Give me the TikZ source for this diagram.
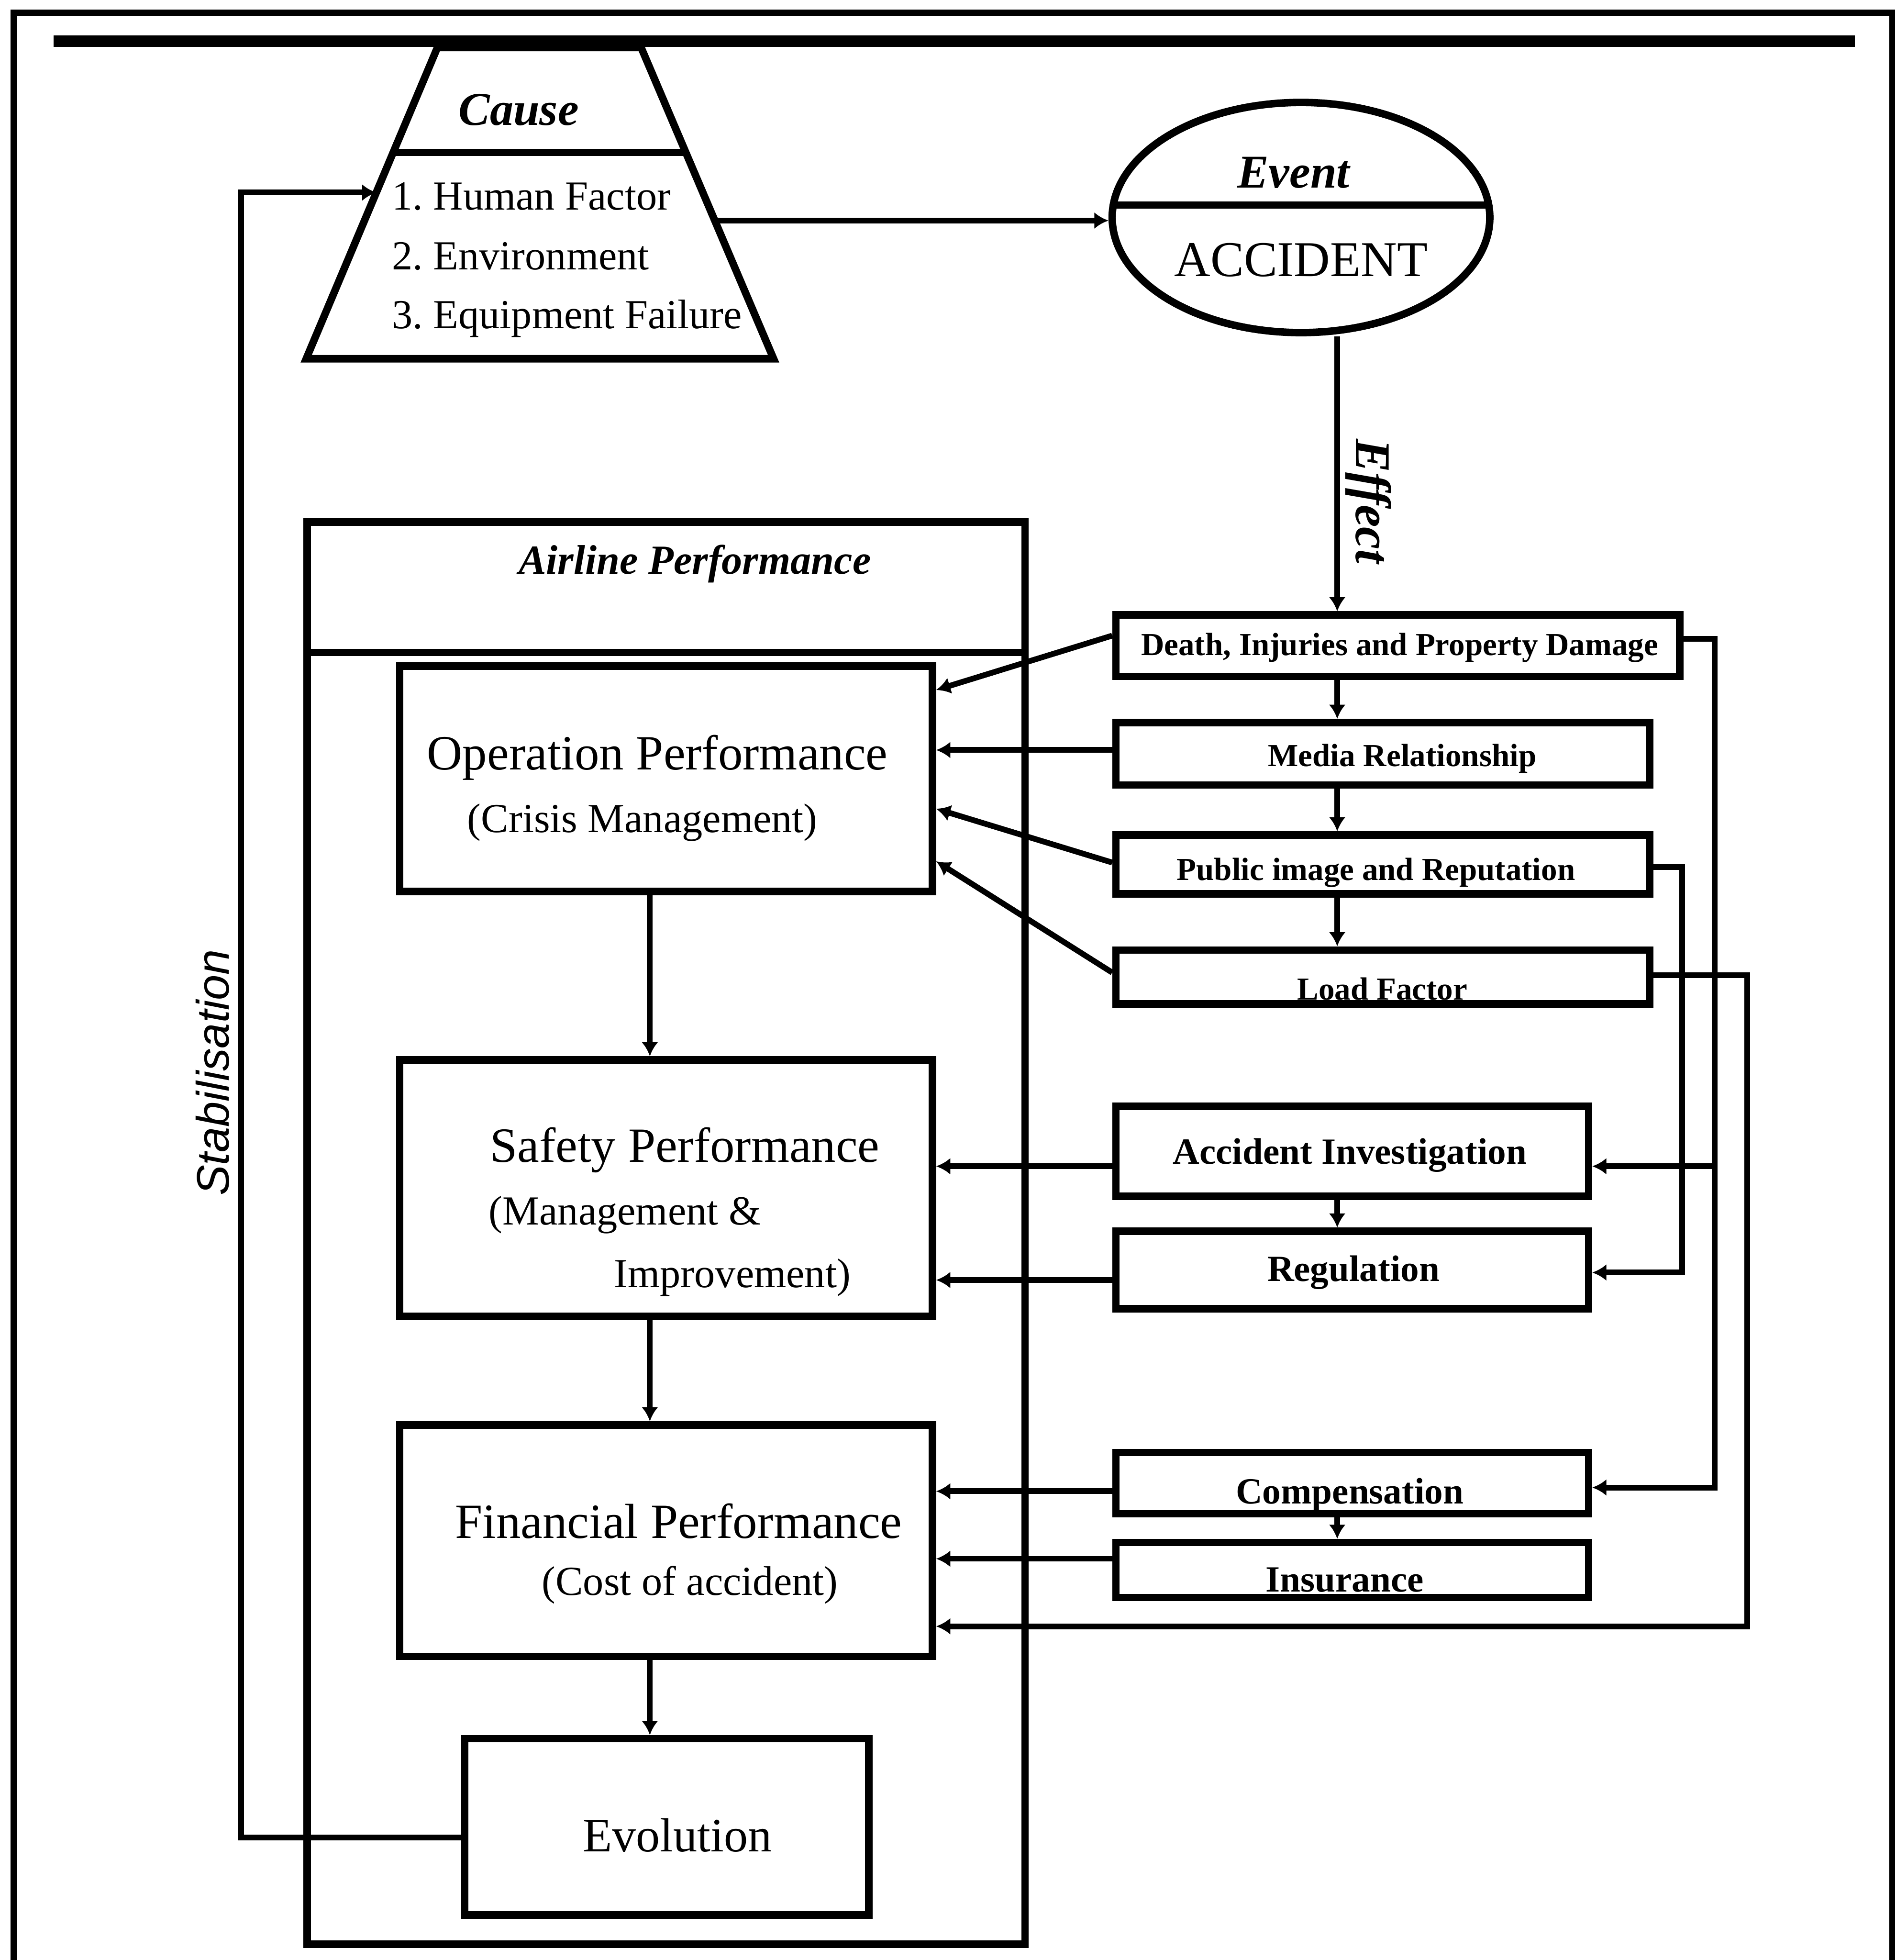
\documentclass[tikz,border=0pt]{standalone}
\usepackage{fontspec}
\setmainfont{Liberation Serif}
\setsansfont{Liberation Sans}
\usetikzlibrary{shapes.geometric,arrows.meta,calc}
\frenchspacing
\begin{document}
\begin{tikzpicture}[x=0.01cm,y=-0.01cm,
  box/.style={draw, line width=1.7pt, rectangle, inner sep=0pt},
  shp/.style={line width=1.7pt},
  con/.style={line width=1.3pt},
  arr/.style={con, -{Latex[length=3.2pt,width=3.8pt]}},
  lt/.style={inner sep=0pt, font=\fontsize{11.2}{13}\selectfont},
  ls/.style={inner sep=0pt, font=\fontsize{9.4}{11}\selectfont},
  rts/.style={inner sep=0pt, font=\bfseries\fontsize{7.3}{9}\selectfont},
  rtb/.style={inner sep=0pt, font=\bfseries\fontsize{8.4}{10}\selectfont},
  bi/.style={inner sep=0pt, font=\bfseries\itshape\fontsize{10.7}{12}\selectfont},
  item/.style={inner sep=0pt, anchor=west, font=\fontsize{9.4}{11}\selectfont}
]
\useasboundingbox (0,0) rectangle (1517,1568);

% outer frame and top bar
\draw[line width=1.4pt] (11,1568) -- (11,10) -- (1514,10) -- (1514,1568);
\draw[line width=2.6pt] (43,33) -- (1484,33);

% Cause trapezium
\coordinate (cTL) at (350,38);
\coordinate (cTR) at (513,38);
\coordinate (cBR) at (619,287);
\coordinate (cBL) at (245,287);
\draw[shp, line join=miter] (cTL) -- (cTR) -- (cBR) -- (cBL) -- cycle;
\draw[shp] ($(cBL)!0.663!(cTL)$) -- ($(cBR)!0.663!(cTR)$);
\node[bi] (causet) at (415,88) {Cause};
\node[item] (i1) at (313,157) {1. Human Factor};
\node[item] (i2) at (313,205) {2. Environment};
\node[item] (i3) at (313,255) {3. Equipment Failure};

% Event ellipse
\node[draw, shp, ellipse, minimum width=3.02cm, minimum height=1.84cm, inner sep=0pt] (event) at (1041,174) {};
\draw[shp] ([shift={(-1.50cm,0.10cm)}]event.center) -- ([shift={(1.50cm,0.10cm)}]event.center);
\node[bi] (eventt) at (1035,138) {Event};
\node[inner sep=0pt, font=\fontsize{11.4}{13}\selectfont] (acc) at (1041,208) {ACCIDENT};

% Airline performance frame
\node[box, minimum width=5.74cm, minimum height=11.37cm] (airline) at (533,986.5) {};
\coordinate (hdy) at (0,522);
\draw[shp] (airline.west |- hdy) -- (airline.east |- hdy);
\node[inner sep=0pt, font=\bfseries\itshape\fontsize{9.4}{11}\selectfont] (airt) at (556,451) {Airline Performance};

% Left boxes
\node[box, minimum width=4.26cm, minimum height=1.80cm] (op) at (533,623) {};
\node[lt] at (526,606) {Operation Performance};
\node[ls] at (514,658) {(Crisis Management)};

\node[box, minimum width=4.26cm, minimum height=2.05cm] (safety) at (533,950.5) {};
\node[lt] at (548,920) {Safety Performance};
\node[ls] at (500,972) {(Management \&};
\node[ls] at (586,1022) {Improvement)};

\node[box, minimum width=4.26cm, minimum height=1.85cm] (fin) at (533,1232.5) {};
\node[lt] at (543,1217) {Financial Performance};
\node[ls] at (552,1268) {(Cost of accident)};

\node[box, minimum width=3.23cm, minimum height=1.41cm] (evo) at (533.5,1461.5) {};
\node[inner sep=0pt, font=\fontsize{10.9}{13}\selectfont] at (542,1468) {Evolution};

% Right boxes
\node[box, minimum width=4.51cm, minimum height=0.49cm] (death) at (1118.5,516.5) {};
\node[rts] at (1120,518) {Death, Injuries and Property Damage};
\node[box, minimum width=4.27cm, minimum height=0.50cm] (media) at (1106.5,603) {};
\node[rts] at (1122,607) {Media Relationship};
\node[box, minimum width=4.27cm, minimum height=0.47cm] (public) at (1106.5,691.5) {};
\node[rts] at (1101,698) {Public image and Reputation};
\node[box, minimum width=4.27cm, minimum height=0.43cm] (load) at (1106.5,781.5) {};
\node[rts] at (1106,791) {Load Factor};

\node[box, minimum width=3.78cm, minimum height=0.72cm] (accinv) at (1082,921) {};
\node[rtb] at (1080,924) {Accident Investigation};
\node[box, minimum width=3.78cm, minimum height=0.62cm] (reg) at (1082,1016) {};
\node[rtb] at (1083,1018) {Regulation};
\node[box, minimum width=3.78cm, minimum height=0.49cm] (comp) at (1082,1186.5) {};
\node[rtb] at (1080,1196) {Compensation};
\node[box, minimum width=3.78cm, minimum height=0.44cm] (ins) at (1082,1256) {};
\node[rtb] at (1076,1264) {Insurance};

% Cause -> Event
\coordinate (ce) at ($(cBR)!0.444!(cTR)$);
\draw[arr] (ce) -- (ce -| event.west);

% Effect
\coordinate (effx) at (1070,0);
\draw[arr] (event.south -| effx) -- (death.north -| effx);
\node[rotate=-90, inner sep=0pt, font=\bfseries\itshape\fontsize{11.4}{13}\selectfont] (efft) at (1095,401) {Effect};

% right chain
\draw[arr] (death.south -| effx) -- (media.north -| effx);
\draw[arr] (media.south -| effx) -- (public.north -| effx);
\draw[arr] (public.south -| effx) -- (load.north -| effx);
\draw[arr] (accinv.south -| effx) -- (reg.north -| effx);
\draw[arr] (comp.south -| effx) -- (ins.north -| effx);

% left chain
\coordinate (lx) at (520,0);
\draw[arr] (op.south -| lx) -- (safety.north -| lx);
\draw[arr] (safety.south -| lx) -- (fin.north -| lx);
\draw[arr] (fin.south -| lx) -- (evo.north -| lx);

% right-to-left connectors
\draw[arr] ([yshift=0.08cm]death.west) -- ([yshift=0.71cm]op.east);
\coordinate (mo) at ([yshift=0.03cm]media.west);
\draw[arr] (mo) -- (mo -| op.east);
\draw[arr] ([yshift=0.015cm]public.west) -- ([yshift=-0.24cm]op.east);
\draw[arr] ([yshift=0.035cm]load.west) -- ([yshift=-0.66cm]op.east);
\coordinate (aio) at ([yshift=-0.12cm]accinv.west);
\draw[arr] (aio) -- (aio -| safety.east);
\coordinate (ro) at ([yshift=-0.08cm]reg.west);
\draw[arr] (ro) -- (ro -| safety.east);
\coordinate (co) at ([yshift=-0.065cm]comp.west);
\draw[arr] (co) -- (co -| fin.east);
\coordinate (io) at ([yshift=0.09cm]ins.west);
\draw[arr] (io) -- (io -| fin.east);

% right-side routing
\coordinate (dout) at ([yshift=0.055cm]death.east);
\coordinate (dcol) at ([xshift=0.25cm]dout);
\coordinate (cin2) at ([yshift=-0.035cm]comp.east);
\draw[arr] (dout) -- (dcol) |- (cin2);
\coordinate (aiin) at ([yshift=-0.12cm]accinv.east);
\draw[arr] (dcol |- aiin) -- (aiin);
\coordinate (pout) at ([yshift=-0.02cm]public.east);
\coordinate (pcol) at ([xshift=0.23cm]pout);
\coordinate (rin) at ([yshift=-0.02cm]reg.east);
\draw[arr] (pout) -- (pcol) |- (rin);
\coordinate (lout) at ([yshift=0.015cm]load.east);
\coordinate (lcol) at ([xshift=0.75cm]lout);
\coordinate (fin2) at ([yshift=-0.685cm]fin.east);
\draw[arr] (lout) -- (lcol) |- (fin2);

% Stabilisation loop
\coordinate (ein) at ([yshift=-0.085cm]evo.west);
\coordinate (cin) at ($(cBL)!0.534!(cTL)$);
\coordinate (sx) at (193,0);
\draw[arr] (ein) -- (ein -| sx) -- (cin -| sx) -- (cin);
\node[rotate=90, inner sep=0pt, font=\sffamily\itshape\fontsize{10.4}{12}\selectfont] (stab) at (170,858) {Stabilisation};
\end{tikzpicture}
\end{document}
